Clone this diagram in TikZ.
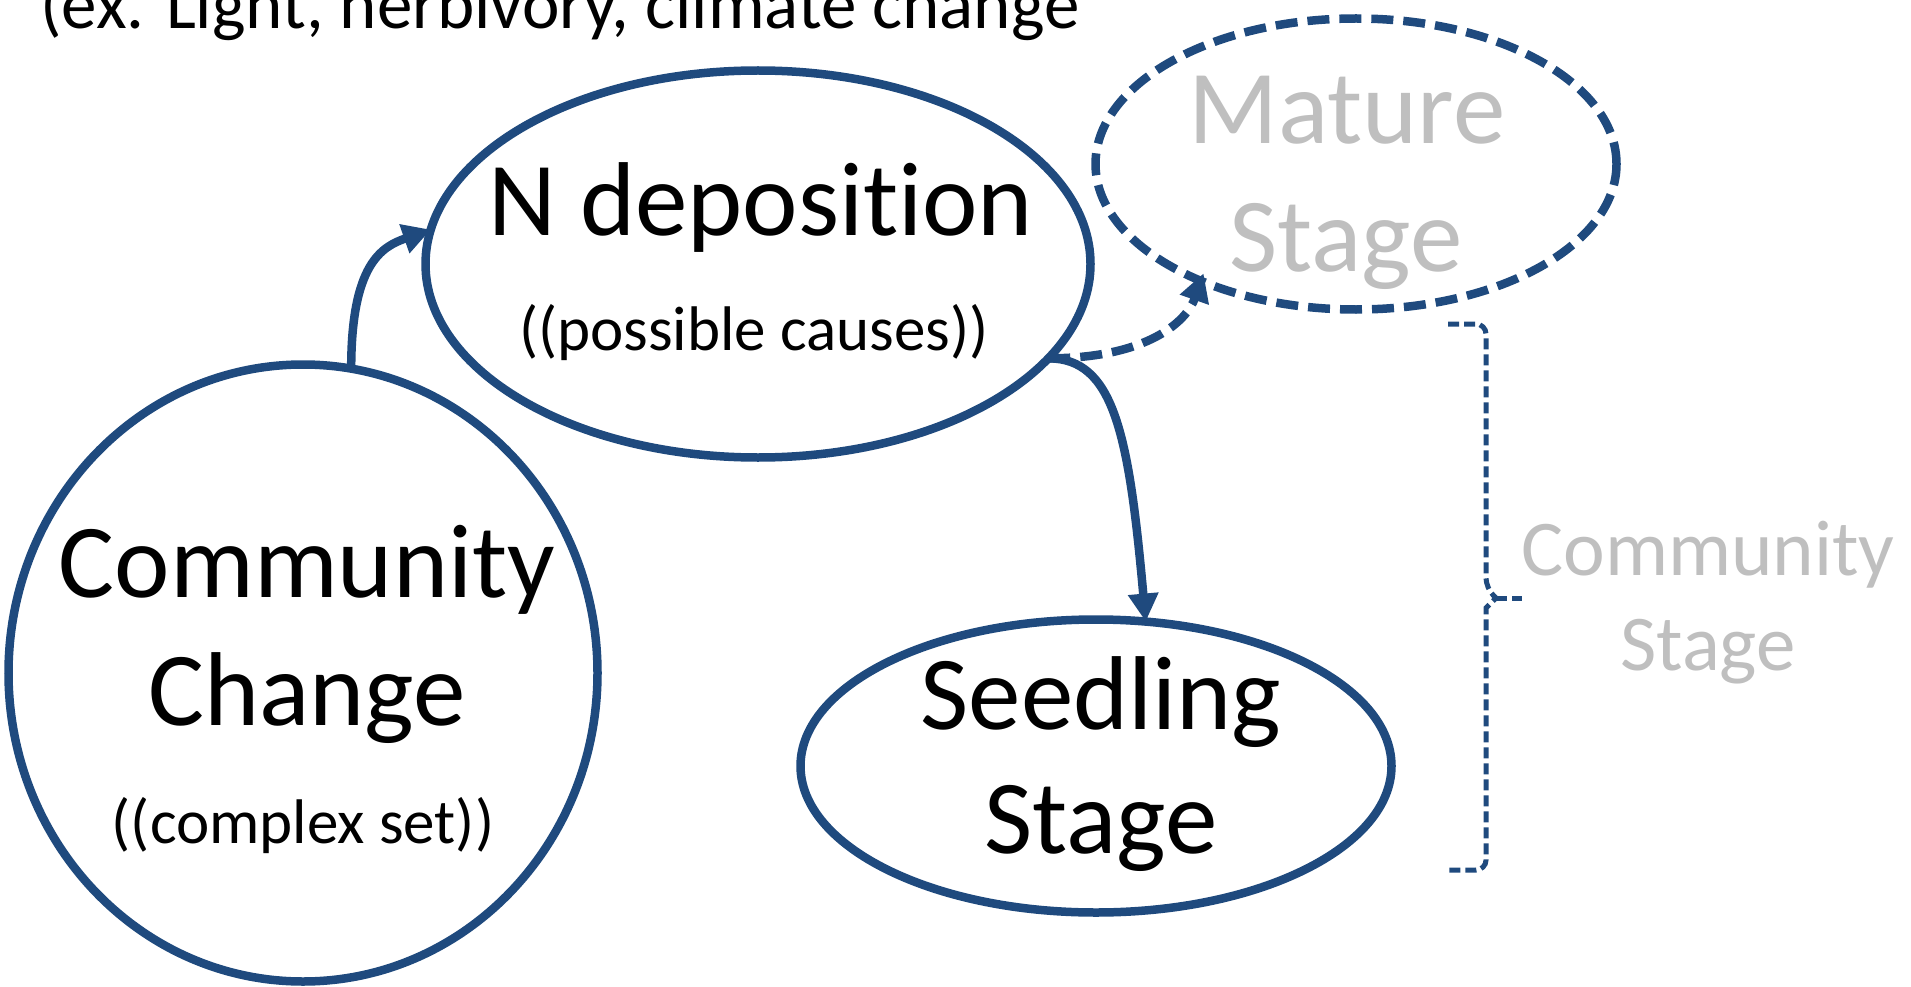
\documentclass[tikz,border=0pt]{standalone}
\usepackage{fontspec}
\setmainfont{Carlito}[Ligatures=CommonOff]
\usetikzlibrary{shapes.geometric,arrows.meta}
\definecolor{ppblue}{HTML}{1F4A7E}
\definecolor{ppgray}{HTML}{BFBFBF}
\begin{document}
\begin{tikzpicture}[x=1pt,y=-1pt,
  oval/.style={ellipse,draw=ppblue,line width=8.5pt,inner sep=0pt,outer sep=0pt},
  dashedline/.style={dash pattern=on 22pt off 10pt},
  conn/.style={draw=ppblue,line width=8.5pt,-{Triangle[length=28pt,width=29pt]}},
  big/.style={font=\fontsize{105}{120}\selectfont,anchor=base,inner sep=0pt},
  small/.style={font=\fontsize{63}{75}\selectfont,anchor=base,inner sep=0pt},
  side/.style={font=\fontsize{79}{90}\selectfont,anchor=base,inner sep=0pt,text=ppgray},
  bracestyle/.style={draw=ppblue,line width=5pt,dash pattern=on 11pt off 5pt}
]
\useasboundingbox (0,0) rectangle (1911,987);

% ovals
\node[oval,minimum width=589pt,minimum height=617pt] (cc) at (303,673) {};
\node[oval,minimum width=665pt,minimum height=387pt] (nd) at (758,264) {};
\node[oval,dashedline,minimum width=521pt,minimum height=291pt] (ms) at (1356,164) {};
\node[oval,minimum width=591pt,minimum height=293pt] (sd) at (1096,766) {};

% texts
\node[anchor=base west,font=\fontsize{71}{80}\selectfont,inner sep=0pt] (ex) at (40,29) {(ex. Light, herbivory, climate change};
\node[big] (tcomm) at (307,597) {Community};
\node[big] (tchange) at (307,725) {Change};
\node[small] (tcomplex) at (303,843) {((complex set))};
\node[big] (tnd) at (761,235) {N deposition};
\node[small] (tposs) at (754,350) {((possible causes))};
\node[big,text=ppgray] (tmat) at (1347,144) {Mature};
\node[big,text=ppgray] (tmstage) at (1346,271) {Stage};
\node[big] (tseed) at (1101,729) {Seedling};
\node[big] (tsstage) at (1101,853) {Stage};
\node[side] (tcs1) at (1708,575) {Community};
\node[side] (tcs2) at (1708,670) {Stage};

% connectors
\draw[conn] (cc.81) .. controls +(0,-105) and +(-49,17) .. (nd.174);
\draw[conn,dashedline,shorten >=-8pt] (nd.342) .. controls +(100,0) and +(-14,40) .. (ms.217);
\draw[conn] (nd.342) .. controls +(65,0) and +(-17,-190) .. (sd.71);

% brace
\coordinate (bt) at (1448,324);
\coordinate (bb) at (1448,870);
\coordinate (bm) at (1522,598);
\draw[bracestyle] (bt) [rounded corners=10pt] -- (1486,324) -- (1486,588) [sharp corners] -- (1496,598) -- (1486,608) [rounded corners=10pt] -- (1486,870) -- (bb);
\draw[bracestyle] (1496,598) -- (bm);
\end{tikzpicture}
\end{document}
